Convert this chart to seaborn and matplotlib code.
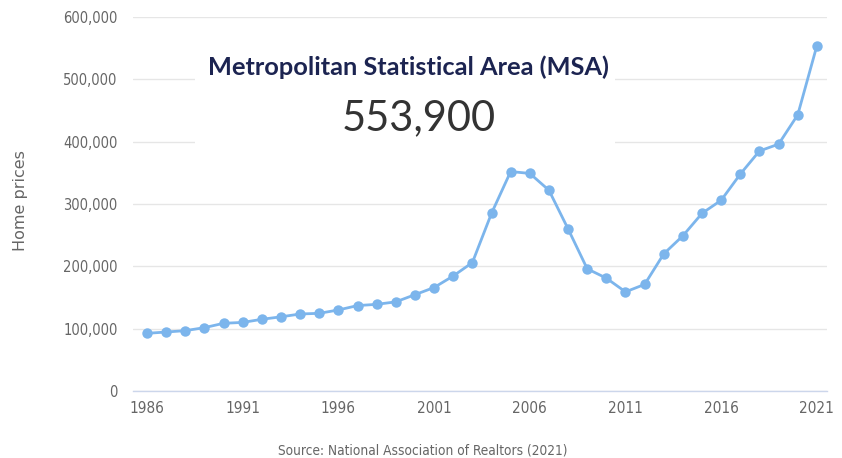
import pandas as pd
import seaborn as sns
import matplotlib.pyplot as plt
from matplotlib.patches import Rectangle
from matplotlib.ticker import FuncFormatter

# median home price by year
years = list(range(1986, 2022))
prices = [92500, 94600, 96800, 101600, 108600, 110000, 115000, 119000, 123500, 124600,
          130000, 137000, 139000, 143000, 154500, 166000, 184500, 206000, 285000, 352000,
          349000, 322000, 260000, 196000, 181000, 159000, 171000, 220000, 249000, 285000,
          306000, 348000, 385000, 396000, 443000, 553900]
x_ticks = [1986, 1991, 1996, 2001, 2006, 2011, 2016, 2021]
y_ticks = [0, 100000, 200000, 300000, 400000, 500000, 600000]

data = pd.DataFrame({'Year': years, 'Price': prices})

sns.set_style('white')
fig = plt.figure(figsize=(8.42, 4.58), dpi=100)
ax = fig.add_axes([0.158, 0.1463, 0.824, 0.8167])

sns.lineplot(data=data, x='Year', y='Price', ax=ax, color='#7cb5ec',
             linewidth=2.0, marker='o', markersize=7.5, markeredgewidth=0, zorder=3)

ax.set_xlim(1985.27, 2021.52)
ax.set_ylim(0, 600000)
ax.set_xticks(x_ticks)
ax.set_yticks(y_ticks)
ax.yaxis.set_major_formatter(FuncFormatter(lambda v, p: f'{int(v):,}'))
ax.grid(axis='y', color='#e6e6e6', linewidth=1)
ax.set_axisbelow(True)
for s in ['top', 'right', 'left']:
    ax.spines[s].set_visible(False)
ax.spines['bottom'].set_color('#ccd6eb')
ax.spines['bottom'].set_linewidth(1)
ax.tick_params(axis='both', length=0, labelcolor='#666666')
ax.tick_params(axis='y', pad=11, labelsize=10.5)
ax.tick_params(axis='x', pad=7, labelsize=11)
for lab in ax.get_xticklabels() + ax.get_yticklabels():
    lab.set_fontstretch('condensed')

ax.set_xlabel('')
ax.set_ylabel('Home prices', fontsize=11.5, color='#666666')
ax.yaxis.set_label_coords(-0.152, 0.51)

# white panel behind the headline
ax.add_patch(Rectangle((195 / 842, 1 - 146 / 458), 420 / 842, 100 / 458,
                       transform=fig.transFigure, facecolor='white',
                       edgecolor='none', zorder=1))
fig.text(0.485, 0.854, 'Metropolitan Statistical Area (MSA)', ha='center', va='center',
         fontsize=18.3, fontweight='bold', color='#1c2451', family='Lato', zorder=5)
fig.text(0.497, 0.742, '553,900', ha='center', va='center',
         fontsize=30, color='#333333', family='Lato', zorder=5)

fig.text(0.502, 0.017, 'Source: National Association of Realtors (2021)', ha='center',
         va='center', fontsize=9.8, color='#666666', fontstretch='condensed')

plt.savefig('out.png', dpi=100)
